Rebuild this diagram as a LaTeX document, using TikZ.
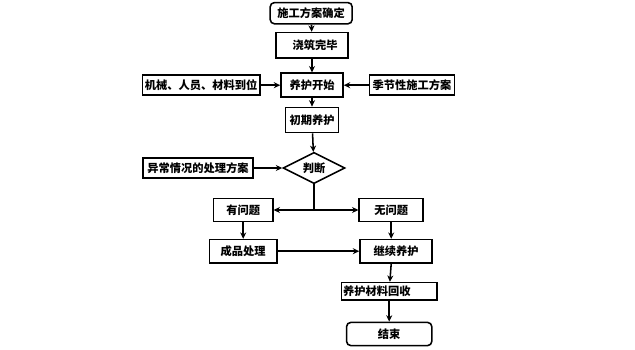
\documentclass[tikz,border=0pt]{standalone}
\usepackage{fontspec}
\setmainfont{Noto Sans CJK SC}
\usepackage{tikz}
\usetikzlibrary{arrows.meta, positioning, shapes.geometric}

\begin{document}
\begin{tikzpicture}[
  box/.style={draw, line width=1.1pt, minimum height=0.58cm, inner sep=1pt, align=center, font=\fontsize{8}{9}\selectfont\bfseries},
  ends/.style={box, rounded corners=3pt},
  judge/.style={draw, line width=1.1pt, diamond, aspect=2, inner sep=0pt, minimum width=1.55cm, minimum height=0.78cm, font=\fontsize{8}{9}\selectfont\bfseries},
  flow/.style={-{Stealth[length=1.6mm, width=1.5mm]}, line width=1.1pt},
]
  \useasboundingbox (0,0) rectangle (15.875,-8.75);

  % Main column
  \node[ends, minimum width=2.05cm, minimum height=0.53cm] (fangan) at (7.78, -0.33) {施工方案确定};
  \node[box, minimum width=1.8cm, minimum height=0.63cm] (jiaozhu) at (7.8, -1.13) {\hspace{0.15cm}浇筑完毕};
  \node[box, minimum width=1.55cm, minimum height=0.6cm] (kaishi) at (7.8, -2.13) {养护开始};
  \node[box, minimum width=1.33cm, minimum height=0.63cm] (chuqi) at (7.8, -3.0) {初期养护};
  \node[judge] (panduan) at (7.85, -4.2) {判断};

  % Side inputs
  \node[box, minimum width=2.93cm, minimum height=0.5cm] (jixie) at (5.03, -2.13) {机械、人员、材料到位};
  \node[box, minimum width=2.13cm, minimum height=0.5cm] (jijie) at (10.3, -2.13) {季节性施工方案};
  \node[box, minimum width=2.75cm, minimum height=0.5cm] (yichang) at (4.95, -4.2) {异常情况的处理方案};

  % Branches
  \coordinate (fork) at (7.85, -5.25);
  \node[box, minimum width=1.48cm] (you) at (6.08, -5.25) {有问题};
  \node[box, minimum width=1.6cm] (wu) at (9.78, -5.25) {无问题};
  \node[box, minimum width=1.68cm] (chengpin) at (6.08, -6.28) {成品处理};
  \node[box, minimum width=1.8cm] (jixu) at (9.9, -6.28) {继续养护};
  \node[box, minimum width=2.38cm, minimum height=0.43cm, text width=2.3cm, align=left] (huishou) at (9.73, -7.28) {养护材料回收};
  \node[ends, minimum width=2.13cm] (jieshu) at (9.73, -8.35) {结束};

  % Arrows
  \draw[flow] (fangan) -- (jiaozhu);
  \draw[flow] (jiaozhu) -- (kaishi);
  \draw[flow] (jixie) -- (kaishi);
  \draw[flow] (jijie) -- (kaishi);
  \draw[flow] (kaishi) -- (chuqi);
  \draw[flow] (chuqi) -- (panduan);
  \draw[flow] (yichang) -- (panduan);
  \draw[line width=1.1pt] (panduan) -- (fork);
  \draw[flow] (fork) -- (you);
  \draw[flow] (fork) -- (wu);
  \draw[flow] (you) -- (chengpin);
  \draw[flow] (wu) -- (wu |- jixu.north);
  \draw[flow] (chengpin) -- (jixu);
  \draw[flow] (jixu.south -| wu) -- (huishou);
  \draw[flow] (huishou) -- (jieshu);
\end{tikzpicture}
\end{document}
